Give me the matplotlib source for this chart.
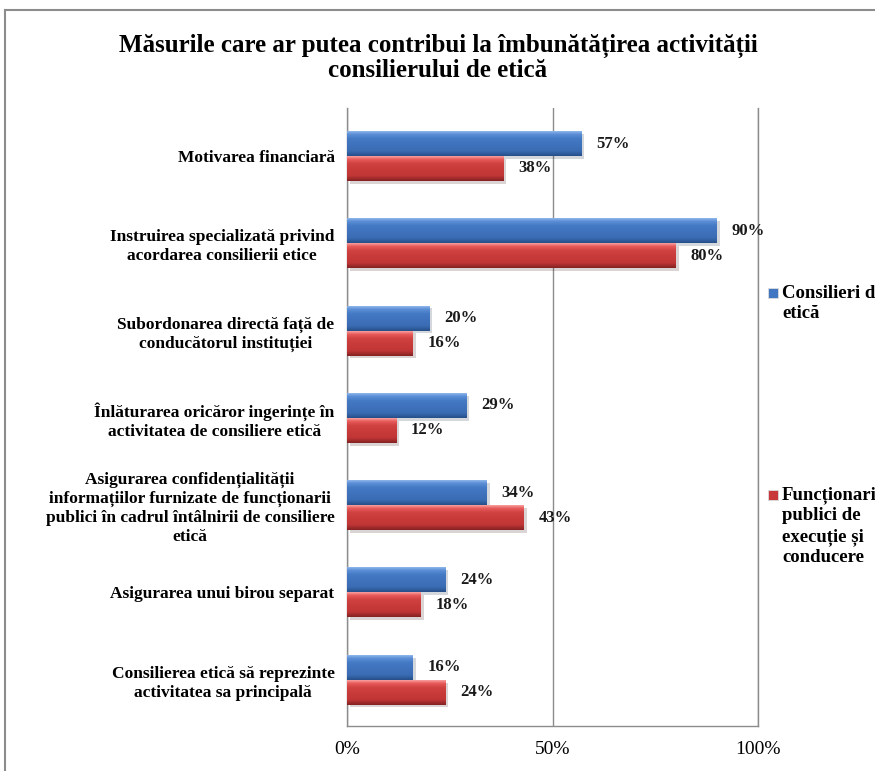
import numpy as np
import matplotlib
matplotlib.use("Agg")
import matplotlib.pyplot as plt
from matplotlib.colors import LinearSegmentedColormap
from matplotlib.patches import Rectangle
from matplotlib.lines import Line2D
import matplotlib.patheffects as pe

categories = [
    "Motivarea financiară",
    "Instruirea specializată privind\nacordarea consilierii etice",
    "Subordonarea directă față de\nconducătorul instituției",
    "Înlăturarea oricăror ingerințe în\nactivitatea de consiliere etică",
    "Asigurarea confidențialității\ninformațiilor furnizate de funcționarii\npublici în cadrul întâlnirii de consiliere\netică",
    "Asigurarea unui birou separat",
    "Consilierea etică să reprezinte\nactivitatea sa principală",
]
consilieri = [57, 90, 20, 29, 34, 24, 16]
functionari = [38, 80, 16, 12, 43, 18, 24]
series_names = ["Consilieri de etică", "Funcționari publici de execuție și conducere"]
legend_lines = [["Consilieri de", "etică"], ["Funcționari", "publici de", "execuție și", "conducere"]]
xticks = [0, 50, 100]
xtick_labels = ["0%", "50%", "100%"]
title = "Măsurile care ar putea contribui la îmbunătățirea activității\nconsilierului de etică"

W, H = 875, 771
fig = plt.figure(figsize=(W / 100, H / 100), dpi=100)
SERIF = ["Liberation Serif", "DejaVu Serif"]

def fx(px):
    return px / W

def fy(py):
    return 1 - py / H

# outer chart frame
fig.add_artist(Line2D([fx(5), fx(5)], [fy(10), fy(771)], color="#8c8c8c", lw=1.5))
fig.add_artist(Line2D([fx(5), 1.0], [fy(10), fy(10)], color="#8c8c8c", lw=1.5))

left, right, top, bottom = 347, 758, 108, 726
ax = fig.add_axes([fx(left), fy(bottom), fx(right - left), (bottom - top) / H])

y = np.arange(len(categories))
bh = 0.286

blue_cmap = LinearSegmentedColormap.from_list("b", [(0, "#8fb6ea"), (0.12, "#5b8fd6"), (0.3, "#4479c4"), (0.8, "#3a6cb4"), (1.0, "#274f8a")])
red_cmap = LinearSegmentedColormap.from_list("r", [(0, "#f7a0a0"), (0.12, "#e85c5c"), (0.3, "#d04040"), (0.8, "#c03535"), (1.0, "#842222")])

grad = np.linspace(0, 1, 64).reshape(-1, 1)

def draw(vals, offset, cmap, base):
    bars = ax.barh(y + offset, vals, height=bh, color=base, zorder=3,
                   path_effects=[pe.SimplePatchShadow(offset=(2, -2), alpha=0.18), pe.Normal()])
    for p in bars:
        x0, y0, w, h = p.get_x(), p.get_y(), p.get_width(), p.get_height()
        im = ax.imshow(grad, extent=[x0, x0 + w, y0 + h, y0], aspect="auto", cmap=cmap,
                       zorder=3.5, interpolation="bilinear")
        im.set_clip_path(p)
    for yi, v in zip(y + offset, vals):
        ax.text(v + 3.6, yi, f"{v}%", va="center", ha="left", fontsize=12,
                fontweight="bold", family=SERIF, color="#1a1a1a", zorder=5)
    return bars

draw(consilieri, -bh / 2, blue_cmap, "#4177c2")
draw(functionari, bh / 2, red_cmap, "#c83a3a")

ax.set_xlim(0, 100)
ax.set_ylim(6.53, -0.55)
ax.set_aspect("auto")
ax.set_yticks(y)
ax.set_yticklabels(categories, fontsize=12.5, fontweight="bold", family=SERIF,
                   multialignment="center", linespacing=1.25)
ax.set_xticks(xticks)
ax.set_xticklabels(xtick_labels, fontsize=14, family=SERIF)
ax.tick_params(axis="both", length=0)
ax.tick_params(axis="y", pad=9)
ax.tick_params(axis="x", pad=11)
ax.grid(axis="x", color="#8c8c8c", lw=1.0, zorder=0)
ax.set_axisbelow(True)
ax.spines["top"].set_visible(False)
for s in ["left", "bottom", "right"]:
    ax.spines[s].set_color("#8c8c8c")
    ax.spines[s].set_linewidth(1.0)

fig.text(fx(438), fy(58), title, ha="center", va="center", fontsize=18,
         fontweight="bold", family=SERIF, linespacing=1.1)

# legend
for (ypx, lines, col) in [(293, legend_lines[0], "#4177c2"), (495, legend_lines[1], "#c83a3a")]:
    fig.add_artist(Rectangle((fx(768), fy(ypx + 5)), fx(10), 10 / H, facecolor=col,
                             edgecolor="#dddddd", lw=0.6))
    for i, t in enumerate(lines):
        fig.text(fx(782), fy(ypx + 21 * i), t, ha="left", va="center",
                 fontsize=13.5, fontweight="bold", family=SERIF)

fig.savefig("out.png", dpi=100)
